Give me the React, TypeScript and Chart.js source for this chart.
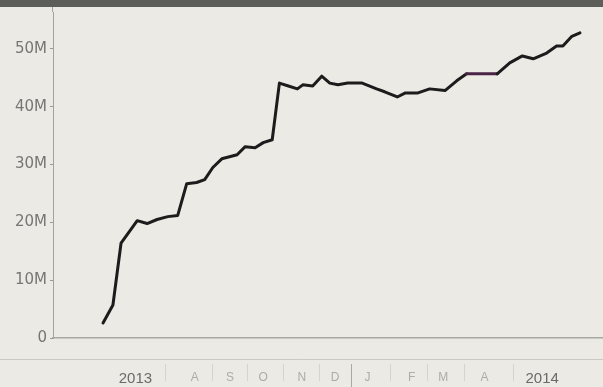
import React, { useEffect, useRef } from "react";
import { Chart, registerables } from "chart.js";

Chart.register(...registerables);

// week offsets and values
const weeks = [0, 1.1, 2, 3.8, 4.9, 6, 7.2, 8.3, 9.3, 10.4, 11.3, 12.2, 13.2, 14.9, 15.8, 16.9, 17.8, 18.8, 19.6, 20.6, 21.6, 22.2, 23.3, 24.3, 25.2, 26.1, 27.2, 28.8, 30.4, 31.3, 32.7, 33.6, 35, 36.3, 38, 39.3, 40.4, 43.8, 45.2, 46.6, 47.8, 49.3, 50.4, 51.1, 52.1, 53];
const values = [2.6, 5.7, 16.4, 20.3, 19.8, 20.5, 21.0, 21.2, 26.7, 26.9, 27.4, 29.5, 31.0, 31.7, 33.1, 32.9, 33.8, 34.3, 44.1, 43.6, 43.1, 43.8, 43.6, 45.3, 44.1, 43.8, 44.1, 44.1, 43.1, 42.6, 41.7, 42.4, 42.4, 43.1, 42.8, 44.5, 45.7, 45.7, 47.6, 48.8, 48.3, 49.3, 50.5, 50.5, 52.2, 52.8];

const xTickLabels = ["2013", "A", "S", "O", "N", "D", "J", "F", "M", "A", "2014"];
const xTickWeeks = [3.6, 10.2, 14.1, 17.8, 22.1, 25.8, 29.4, 34.3, 37.8, 42.4, 48.8];
const yTickValues = [0, 10, 20, 30, 40, 50];
const yTickLabels = ["0", "10M", "20M", "30M", "40M", "50M"];

const separatorPlugin = {
  id: "separators",
  afterDraw(chart: any) {
    const { ctx, chartArea } = chart;
    const xs = chart.scales.x;
    const yLine = chartArea.bottom + 21;
    ctx.save();
    ctx.strokeStyle = "#c9c8c3";
    ctx.lineWidth = 1;
    ctx.beginPath();
    ctx.moveTo(0, yLine + 0.5);
    ctx.lineTo(chart.width, yLine + 0.5);
    ctx.stroke();
    // y-axis line continues up to the top edge
    ctx.strokeStyle = "#a3a29d";
    ctx.beginPath();
    ctx.moveTo(chartArea.left - 0.5, 0);
    ctx.lineTo(chartArea.left - 0.5, chartArea.top);
    ctx.stroke();
    for (let i = 0; i < xTickWeeks.length - 1; i++) {
      const mid = (xTickWeeks[i] + xTickWeeks[i + 1]) / 2;
      const px = Math.round(xs.getPixelForValue(mid)) + 0.5;
      const strong = xTickLabels[i] === "D";
      ctx.strokeStyle = strong ? "#a9a8a3" : "#d4d3ce";
      ctx.beginPath();
      ctx.moveTo(px, yLine + 5);
      ctx.lineTo(px, yLine + (strong ? 28 : 22));
      ctx.stroke();
    }
    ctx.restore();
  },
};

export default function App() {
  const ref = useRef<HTMLCanvasElement>(null);
  useEffect(() => {
    const chart = new Chart(ref.current as HTMLCanvasElement, {
      type: "line",
      data: {
        datasets: [
          {
            data: weeks.map((w, i) => ({ x: w, y: values[i] })),
            borderColor: "#1c1c1c",
            borderWidth: 3,
            tension: 0,
            pointRadius: 0,
            borderJoinStyle: "round",
            borderCapStyle: "round",
            segment: {
              borderColor: (c: any) => (c.p0DataIndex === 36 ? "#4a2446" : undefined),
            },
          },
        ],
      },
      options: {
        animation: false,
        responsive: false,
        maintainAspectRatio: false,
        layout: { padding: 0 },
        plugins: { legend: { display: false }, tooltip: { enabled: false } },
        scales: {
          x: {
            type: "linear",
            min: -5.56,
            max: 55.56,
            afterBuildTicks: (axis: any) => {
              axis.ticks = xTickWeeks.map((v) => ({ value: v }));
            },
            afterFit: (scale: any) => {
              scale.height = 49;
            },
            grid: { display: false, drawTicks: false },
            border: { display: true, color: "#a8a7a2", width: 1.5 },
            ticks: {
              padding: 32,
              maxRotation: 0,
              autoSkip: false,
              callback: (v: any, i: number) => xTickLabels[i],
              color: (c: any) => (c.index === 0 || c.index === xTickLabels.length - 1 ? "#6a6a67" : "#adaca7"),
              font: (c: any) =>
                c.index === 0 || c.index === xTickLabels.length - 1
                  ? { family: "Liberation Sans", size: 15 }
                  : { family: "Liberation Sans", size: 12 },
            },
          },
          y: {
            type: "linear",
            min: 0,
            max: 56.4,
            afterBuildTicks: (axis: any) => {
              axis.ticks = yTickValues.map((v) => ({ value: v }));
            },
            afterFit: (scale: any) => {
              scale.width = 53;
            },
            grid: { display: true, drawOnChartArea: false, drawTicks: true, tickLength: 3, color: "#9a9995" },
            border: { display: true, color: "#a3a29d", width: 1 },
            ticks: {
              padding: 3,
              color: "#767673",
              font: { family: "DejaVu Sans", size: 15 },
              callback: (v: any, i: number) => yTickLabels[i],
            },
          },
        },
      },
      plugins: [separatorPlugin],
    } as any);
    return () => chart.destroy();
  }, []);

  return (
    <div style={{ position: "absolute", left: 0, top: 0, width: 603, height: 387, background: "#ebeae5", overflow: "hidden" }}>
      <canvas ref={ref} width={603} height={387} style={{ position: "absolute", left: 0, top: 0 }} />
      <div style={{ position: "absolute", left: 0, top: 0, width: 603, height: 7, background: "#5c5e59" }} />
    </div>
  );
}
